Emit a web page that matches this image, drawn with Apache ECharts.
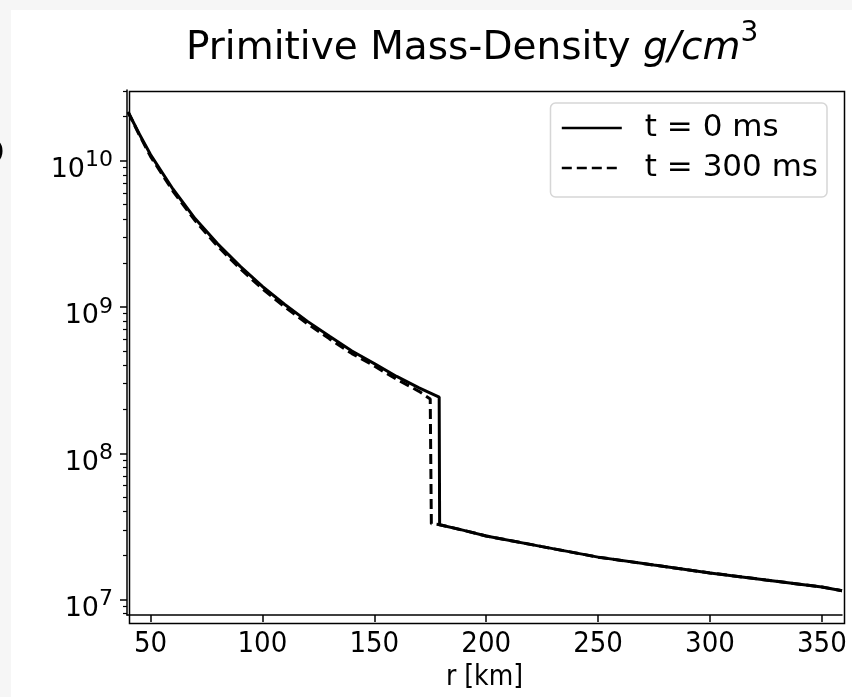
<!DOCTYPE html>
<html>
<head>
<meta charset="utf-8">
<script src="https://cdn.jsdelivr.net/npm/echarts@6/dist/echarts.min.js"></script>
<style>
html,body{margin:0;padding:0;background:#fff;}
#c{width:852px;height:697px;}
</style>
</head>
<body>
<div id="c"></div>
<script>
// r [km] and density [g/cm^3]
var r0 = [40, 45, 50, 60, 70, 80, 90, 100, 110, 120, 130, 140, 150, 160, 170, 179, 179.2, 190, 200, 225, 250, 275, 300, 325, 350, 359];
var rho0 = [2.15e10, 1.52e10, 1.1e10, 6.4e9, 4.0e9, 2.7e9, 1.9e9, 1.38e9, 1.04e9, 8.0e8, 6.3e8, 5.0e8, 4.1e8, 3.35e8, 2.8e8, 2.42e8, 3.25e7, 2.97e7, 2.72e7, 2.3e7, 1.95e7, 1.72e7, 1.52e7, 1.36e7, 1.22e7, 1.15e7];
var r300 = [40, 45, 50, 60, 70, 80, 90, 100, 110, 120, 130, 140, 150, 160, 170, 175, 175.5, 179.2, 190, 200, 225, 250, 275, 300, 325, 350, 359];
var rho300 = [2.15e10, 1.5e10, 1.07e10, 6.2e9, 3.88e9, 2.6e9, 1.83e9, 1.33e9, 1.0e9, 7.7e8, 6.05e8, 4.8e8, 3.95e8, 3.2e8, 2.65e8, 2.35e8, 3.3e7, 3.25e7, 2.97e7, 2.72e7, 2.3e7, 1.95e7, 1.72e7, 1.52e7, 1.36e7, 1.22e7, 1.15e7];
var xTicks = [50, 100, 150, 200, 250, 300, 350];
var yMajor = [1e7, 1e8, 1e9, 1e10];
var yMinor = [8e6, 9e6, 2e7, 3e7, 4e7, 5e7, 6e7, 7e7, 8e7, 9e7, 2e8, 3e8, 4e8, 5e8, 6e8, 7e8, 8e8, 9e8, 2e9, 3e9, 4e9, 5e9, 6e9, 7e9, 8e9, 9e9, 2e10, 3e10];
var seriesNames = ['t = 0 ms', 't = 300 ms'];

function zip(a, b) { return a.map(function (v, i) { return [v, b[i]]; }); }

var FONT = 'DejaVu Sans';
var FONT_C = 'DejaVu Sans Condensed';
var chart = echarts.init(document.getElementById('c'), null, {renderer: 'canvas'});
var yLabelRich = {
  b: {fontFamily: FONT, fontSize: 27, color: '#000', lineHeight: 34, verticalAlign: 'bottom'},
  s: {fontFamily: FONT, fontSize: 22, color: '#000', lineHeight: 34, verticalAlign: 'top'}
};
chart.setOption({
  backgroundColor: '#fff',
  animation: false,
  title: {
    text: '{n|Primitive Mass-Density }{i|g/cm}{s|3}',
    left: 181,
    top: 15,
    textStyle: {
      fontWeight: 'normal',
      rich: {
        n: {fontFamily: FONT, fontSize: 39, fontWeight: 'normal', color: '#000', lineHeight: 48, verticalAlign: 'bottom'},
        i: {fontFamily: FONT, fontSize: 39, fontWeight: 'normal', fontStyle: 'italic', color: '#000', lineHeight: 48, verticalAlign: 'bottom'},
        s: {fontFamily: FONT, fontSize: 28, fontWeight: 'normal', color: '#000', lineHeight: 48, verticalAlign: 'top'}
      }
    }
  },
  legend: {
    orient: 'vertical',
    right: 25,
    top: 103,
    data: seriesNames,
    itemWidth: 60,
    itemHeight: 14,
    itemGap: 8,
    padding: [9, 9, 13, 10],
    borderColor: '#d6d6d6',
    borderWidth: 1.5,
    borderRadius: 5,
    backgroundColor: '#fff',
    itemStyle: {opacity: 0},
    lineStyle: {width: 2.6},
    textStyle: {fontFamily: FONT, fontSize: 31, color: '#000', lineHeight: 32, padding: [0, 0, 0, 18]}
  },
  grid: {left: 127, right: 10, top: 90, bottom: 76, containLabel: false, show: false},
  xAxis: {
    type: 'value',
    min: 39.5,
    max: 359,
    name: 'r [km]',
    nameLocation: 'middle',
    nameGap: 47,
    nameTextStyle: {fontFamily: FONT_C, fontSize: 28, color: '#000'},
    axisLine: {show: true, onZero: false, lineStyle: {color: '#000', width: 1.5}},
    axisTick: {show: true, length: 7, lineStyle: {color: '#000', width: 1.5}, customValues: xTicks},
    axisLabel: {fontFamily: FONT_C, fontSize: 29, color: '#000', margin: 15, customValues: xTicks, formatter: function (v) { return String(v); }},
    splitLine: {show: false}
  },
  yAxis: [
    {
      type: 'log',
      logBase: 10,
      min: 7.83e6,
      max: 3.04e10,
      axisLine: {show: true, lineStyle: {color: '#000', width: 1.5}},
      axisTick: {show: true, length: 7, lineStyle: {color: '#000', width: 1.5}, customValues: yMajor},
      axisLabel: {
        margin: 14,
        padding: [12, 0, 0, 0],
        customValues: yMajor,
        formatter: function (v) { return '{b|10}{s|' + Math.round(Math.log10(v)) + '}'; },
        rich: yLabelRich
      },
      splitLine: {show: false}
    },
    {
      type: 'log',
      logBase: 10,
      position: 'left',
      min: 7.83e6,
      max: 3.04e10,
      axisLine: {show: false},
      axisTick: {show: true, length: 4, lineStyle: {color: '#000', width: 1.2}, customValues: yMinor},
      axisLabel: {show: false},
      splitLine: {show: false}
    }
  ],
  graphic: [
    {type: 'rect', left: 0, top: 0, shape: {width: 852, height: 10}, style: {fill: '#f6f6f6'}, silent: true},
    {type: 'rect', left: 0, top: 0, shape: {width: 11, height: 697}, style: {fill: '#f6f6f6'}, silent: true},
    {type: 'rect', left: 127, top: 89, shape: {width: 715, height: 532}, style: {fill: 'none', stroke: '#000', lineWidth: 1.5}, silent: true, z: 10},
    {type: 'text', left: -38, top: 112, style: {text: 'S', font: '70px "DejaVu Sans"', fill: '#000'}, silent: true}
  ],
  series: [
    {
      name: seriesNames[0],
      type: 'line',
      data: zip(r0, rho0),
      showSymbol: false,
      symbol: 'none',
      smooth: false,
      lineStyle: {color: '#000', width: 3},
      itemStyle: {color: '#000'},
      z: 3
    },
    {
      name: seriesNames[1],
      type: 'line',
      data: zip(r300, rho300),
      showSymbol: false,
      symbol: 'none',
      smooth: false,
      lineStyle: {color: '#000', width: 3, type: [10, 5]},
      itemStyle: {color: '#000'},
      z: 2
    }
  ]
});
</script>
</body>
</html>
